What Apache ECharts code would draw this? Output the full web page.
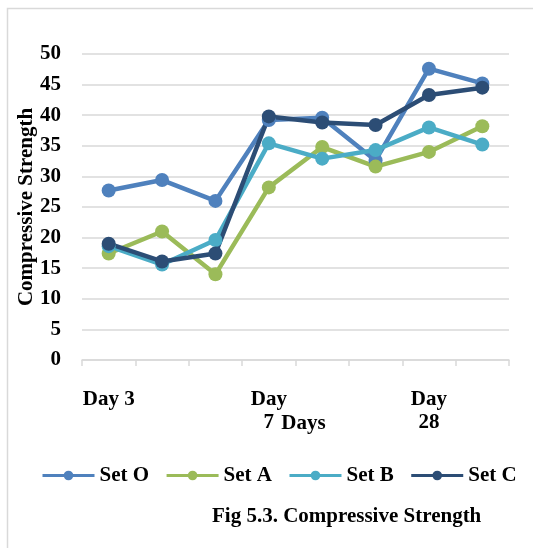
<!DOCTYPE html>
<html>
<head>
<meta charset="utf-8">
<style>
  html, body { margin: 0; padding: 0; background: #fff; }
  #chart { width: 533px; height: 548px; }
</style>
<script src="https://cdn.jsdelivr.net/npm/echarts@6/dist/echarts.min.js"></script>
</head>
<body>
<div id="chart"></div>
<script>
var categories = ['Day 3', '', '', 'Day\n7', '', '', 'Day\n28', '']
var setO = [27.7, 29.4, 26.0, 39.2, 39.6, 32.6, 47.6, 45.2]
var setA = [17.4, 21.0, 14.0, 28.2, 34.8, 31.6, 34.0, 38.2]
var setB = [18.6, 15.6, 19.6, 35.4, 32.9, 34.3, 38.0, 35.2]
var setC = [19.0, 16.1, 17.4, 39.8, 38.8, 38.4, 43.3, 44.5]
var seriesNames = ['Set O', 'Set A', 'Set B', 'Set C']
var colors = ['#4F81BD', '#9BBB59', '#4BACC6', '#2C4D75']

var font = 'Liberation Serif'
var fs = 21
var myChart = echarts.init(document.getElementById('chart'))

var series = [setO, setA, setB, setC].map(function (d, i) {
  return {
    name: seriesNames[i],
    type: 'line',
    data: d,
    symbol: 'circle',
    symbolSize: 14,
    itemStyle: { color: colors[i] },
    lineStyle: { color: colors[i], width: 4.5 },
    emphasis: { disabled: true }
  }
})

var option = {
  animation: false,
  textStyle: { fontFamily: font },
  graphic: [
    {
      type: 'rect',
      shape: { x: 7.5, y: 8.5, width: 560, height: 580 },
      style: { fill: 'none', stroke: '#d9d9d9', lineWidth: 1.5 },
      z: -1
    },
    {
      type: 'text',
      left: 212,
      top: 506,
      style: {
        text: 'Fig 5.3. Compressive Strength',
        font: 'bold 21px "Liberation Serif"',
        fill: '#000'
      }
    }
  ],
  grid: { left: 82, right: 24, top: 54, bottom: 188 },
  legend: {
    data: seriesNames,
    left: 36,
    top: 460,
    itemWidth: 52,
    itemHeight: 12,
    itemGap: 16,
    lineStyle: { width: 3 },
    textStyle: { fontFamily: font, fontSize: fs, fontWeight: 'bold', color: '#000' }
  },
  xAxis: {
    type: 'category',
    data: categories,
    boundaryGap: true,
    name: 'Days',
    nameLocation: 'middle',
    nameGap: 53,
    nameMoveOverlap: false,
    nameTextStyle: { fontFamily: font, fontSize: fs, fontWeight: 'bold', color: '#000', padding: [0, 0, 0, 16] },
    axisLine: { lineStyle: { color: '#d9d9d9', width: 1.5 } },
    axisTick: { show: true, length: 6, lineStyle: { color: '#d9d9d9', width: 1.5 }, alignWithLabel: false },
    axisLabel: {
      interval: 0,
      margin: 28,
      fontFamily: font,
      fontSize: fs,
      fontWeight: 'bold',
      color: '#000',
      lineHeight: 23
    }
  },
  yAxis: {
    type: 'value',
    min: 0,
    max: 50,
    interval: 5,
    name: 'Compressive Strength',
    nameLocation: 'middle',
    nameGap: 45,
    nameMoveOverlap: false,
    nameTextStyle: { fontFamily: font, fontSize: fs, fontWeight: 'bold', color: '#000' },
    axisLine: { show: false },
    axisTick: { show: false },
    splitLine: { lineStyle: { color: '#d9d9d9', width: 1.5 } },
    axisLabel: { margin: 21, fontFamily: font, fontSize: fs, fontWeight: 'bold', color: '#000' }
  },
  series: series
}
myChart.setOption(option)
</script>
</body>
</html>
